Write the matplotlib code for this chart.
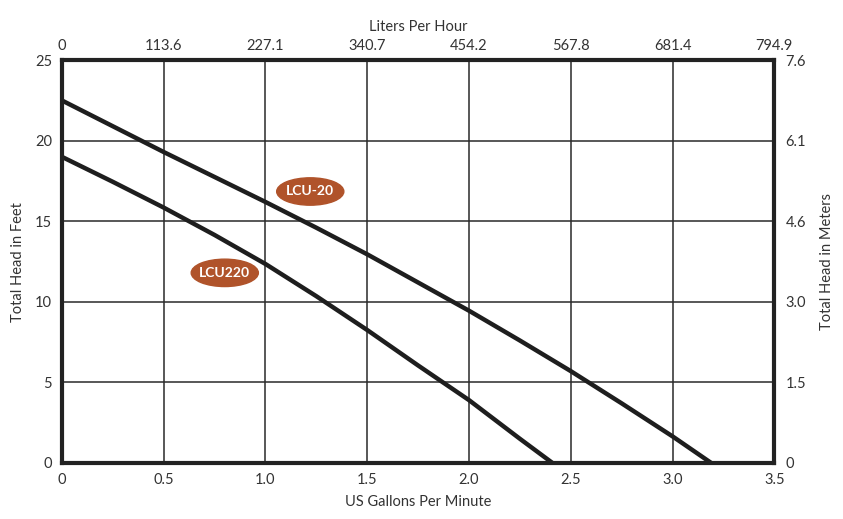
import matplotlib
matplotlib.use("Agg")
import matplotlib.pyplot as plt
from matplotlib.patches import Ellipse

# Pump curves (US GPM vs total head in feet)
lcu20_gpm = [0, 0.25, 0.5, 0.75, 1.0, 1.25, 1.5, 1.75, 2.0, 2.25, 2.5, 2.75, 3.0, 3.19]
lcu20_ft = [22.5, 20.9, 19.3, 17.75, 16.2, 14.6, 12.95, 11.2, 9.45, 7.6, 5.7, 3.7, 1.65, 0]
lcu220_gpm = [0, 0.25, 0.5, 0.75, 1.0, 1.25, 1.5, 1.75, 2.0, 2.25, 2.41]
lcu220_ft = [19.0, 17.45, 15.85, 14.15, 12.35, 10.35, 8.25, 6.05, 3.9, 1.5, 0]

gpm_ticks = [0, 0.5, 1.0, 1.5, 2.0, 2.5, 3.0, 3.5]
gpm_labels = ["0", "0.5", "1.0", "1.5", "2.0", "2.5", "3.0", "3.5"]
lph_labels = ["0", "113.6", "227.1", "340.7", "454.2", "567.8", "681.4", "794.9"]
ft_ticks = [0, 5, 10, 15, 20, 25]
m_labels = ["0", "1.5", "3.0", "4.6", "6.1", "7.6"]

labels = ["LCU-20", "LCU220"]
label_pos = [(1.22, 16.85), (0.80, 11.8)]

plt.rcParams["font.family"] = ["Lato", "DejaVu Sans"]
txt = "#333333"
badge = "#b0532a"

fig = plt.figure(figsize=(8.43, 5.19), dpi=100)
ax = fig.add_axes([0.0735, 0.108, 0.845, 0.776])

ax.set_xlim(0, 3.5)
ax.set_ylim(0, 25)
ax.set_xticks(gpm_ticks)
ax.set_xticklabels(gpm_labels)
ax.set_yticks(ft_ticks)
ax.grid(True, color="#2a2a2a", linewidth=1.1)
ax.set_axisbelow(True)
ax.tick_params(length=0, labelsize=10.5, colors=txt, pad=7)
for s in ax.spines.values():
    s.set_linewidth(3)
    s.set_color("#222222")

ax.plot(lcu20_gpm, lcu20_ft, color="#1e1e1e", linewidth=3.2,
        solid_capstyle="butt", solid_joinstyle="round")
ax.plot(lcu220_gpm, lcu220_ft, color="#1e1e1e", linewidth=3.2,
        solid_capstyle="butt", solid_joinstyle="round")

for name, (x, y) in zip(labels, label_pos):
    ax.add_patch(Ellipse((x, y), 0.33, 1.7, color=badge, zorder=4))
    ax.text(x, y, name, color="white", fontsize=10, fontweight="bold",
            ha="center", va="center", zorder=5)

ax.set_xlabel("US Gallons Per Minute", fontsize=10.5, color=txt, labelpad=6)
ax.set_ylabel("Total Head in Feet", fontsize=10.5, color=txt, labelpad=7)

top = ax.twiny()
top.set_xlim(ax.get_xlim())
top.set_xticks(gpm_ticks)
top.set_xticklabels(lph_labels)
top.tick_params(length=0, labelsize=10.5, colors=txt, pad=5)
top.set_xlabel("Liters Per Hour", fontsize=10.5, color=txt, labelpad=6)

right = ax.twinx()
right.set_ylim(ax.get_ylim())
right.set_yticks(ft_ticks)
right.set_yticklabels(m_labels)
right.tick_params(length=0, labelsize=10.5, colors=txt, pad=8)
right.set_ylabel("Total Head in Meters", fontsize=10.5, color=txt, labelpad=10)

for a in (top, right):
    for s in a.spines.values():
        s.set_visible(False)

fig.savefig("out.png", dpi=100)
plt.close(fig)
